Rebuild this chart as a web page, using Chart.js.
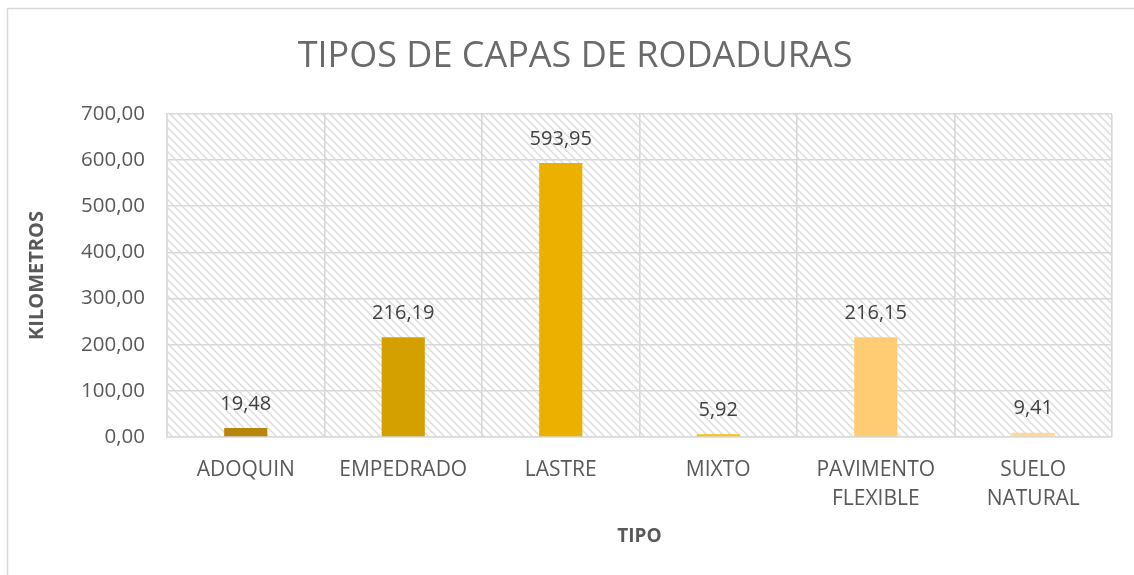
<!DOCTYPE html>
<html><head><meta charset="utf-8">
<script src="https://cdn.jsdelivr.net/npm/chart.js@4"></script>
<style>html,body{margin:0;padding:0;background:#fff}</style>
</head><body>
<canvas id="c" width="1134" height="575" style="display:block;width:1134px;height:575px"></canvas>
<script>
const categories = [['ADOQUIN'], ['EMPEDRADO'], ['LASTRE'], ['MIXTO'], ['PAVIMENTO', 'FLEXIBLE'], ['SUELO', 'NATURAL']];
const kilometros = [19.48, 216.19, 593.95, 5.92, 216.15, 9.41];
const barColors = ['#B8860B', '#D4A000', '#EBB000', '#FFC000', '#FFCC73', '#FFD89E'];
const yMin = 0, yMax = 700, yStep = 100;
const chartTitle = 'TIPOS DE CAPAS DE RODADURAS';

const fmt = v => v.toFixed(2).replace('.', ',');
const FONT = "'Open Sans', 'DejaVu Sans', sans-serif";

const tile = document.createElement('canvas');
tile.width = 8; tile.height = 8;
const tg = tile.getContext('2d');
tg.fillStyle = '#ffffff'; tg.fillRect(0, 0, 8, 8);
tg.strokeStyle = '#dcdcdc'; tg.lineWidth = 1.5;
tg.beginPath();
tg.moveTo(-2, -2); tg.lineTo(10, 10);
tg.moveTo(-10, -2); tg.lineTo(2, 10);
tg.moveTo(6, -2); tg.lineTo(18, 10);
tg.stroke();

const bgPlugin = {
  id: 'bg',
  beforeDraw(chart) {
    const ctx = chart.ctx, a = chart.chartArea;
    ctx.save();
    ctx.fillStyle = '#fff';
    ctx.fillRect(0, 0, chart.width, chart.height);
    ctx.strokeStyle = '#d9d9d9'; ctx.lineWidth = 1.5;
    ctx.beginPath();
    ctx.moveTo(7.5, chart.height + 2); ctx.lineTo(7.5, 8.5); ctx.lineTo(chart.width + 2, 8.5);
    ctx.stroke();
    ctx.fillStyle = ctx.createPattern(tile, 'repeat');
    ctx.fillRect(a.left, a.top, a.right - a.left, a.bottom - a.top);
    ctx.fillStyle = '#6a6a6a';
    ctx.font = "36px " + FONT;
    ctx.textAlign = 'center';
    ctx.textBaseline = 'middle';
    ctx.fillText(chartTitle, 575, 57);
    ctx.restore();
  }
};

const labelPlugin = {
  id: 'vlabels',
  afterDatasetsDraw(chart) {
    const ctx = chart.ctx;
    const meta = chart.getDatasetMeta(0);
    ctx.save();
    ctx.font = "20px " + FONT;
    ctx.fillStyle = '#404040';
    ctx.textAlign = 'center';
    ctx.textBaseline = 'middle';
    meta.data.forEach((el, i) => {
      ctx.fillText(fmt(kilometros[i]), el.x, el.y - 24);
    });
    ctx.restore();
  }
};

new Chart(document.getElementById('c'), {
  type: 'bar',
  data: {
    labels: categories,
    datasets: [{
      data: kilometros,
      backgroundColor: barColors,
      borderWidth: 0,
      barPercentage: 0.274,
      categoryPercentage: 1
    }]
  },
  options: {
    responsive: false,
    animation: false,
    devicePixelRatio: 1,
    layout: { padding: { left: 0, right: 22, top: 114, bottom: 0 } },
    plugins: {
      legend: { display: false },
      tooltip: { enabled: false },
      title: { display: false }
    },
    scales: {
      x: {
        grid: { color: '#d9d9d9', lineWidth: 1.6, drawTicks: false, offset: true },
        border: { color: '#d9d9d9', width: 1.6 },
        ticks: { color: '#595959', font: { family: FONT, size: 21, lineHeight: 1.38 }, padding: 19, maxRotation: 0, autoSkip: false },
        title: { display: true, text: 'TIPO', color: '#595959', font: { family: FONT, size: 19, weight: 'bold', lineHeight: 1.2 }, padding: { top: 0, bottom: 27 } },
        afterFit(s) { s.height = 138; }
      },
      y: {
        min: yMin, max: yMax,
        grid: { color: '#d9d9d9', lineWidth: 1.6, drawTicks: false },
        border: { color: '#d9d9d9', width: 1.6 },
        ticks: { stepSize: yStep, color: '#595959', font: { family: FONT, size: 20.5 }, padding: 22, callback: v => fmt(v) },
        title: { display: true, text: 'KILOMETROS', color: '#595959', font: { family: FONT, size: 20, weight: 'bold', lineHeight: 1.2 }, padding: { top: 25, bottom: 0 } },
        afterFit(s) { s.width = 167; }
      }
    }
  },
  plugins: [bgPlugin, labelPlugin]
});
</script>
</body></html>
